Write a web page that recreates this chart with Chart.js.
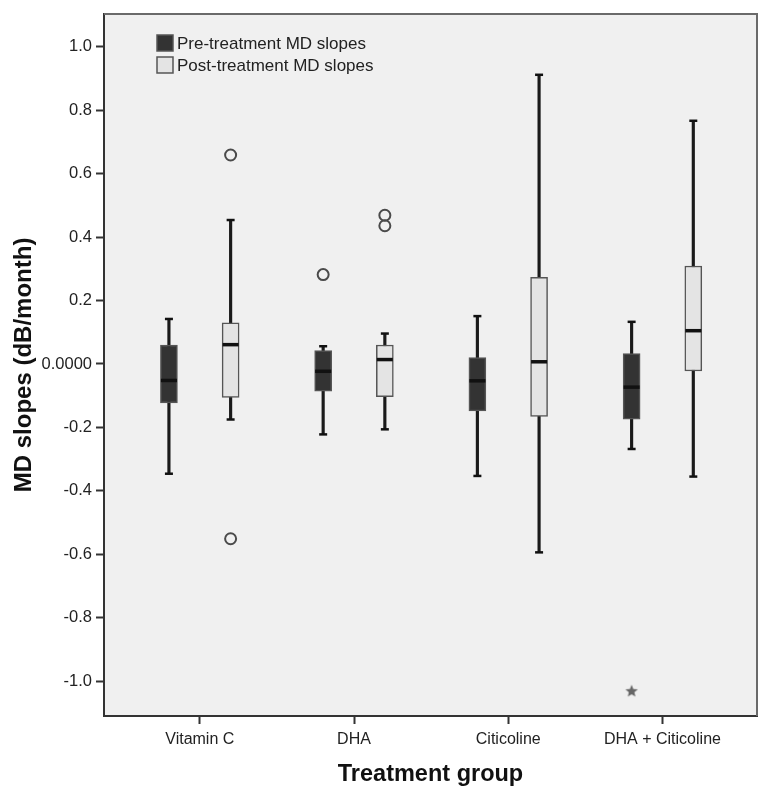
<!DOCTYPE html>
<html>
<head>
<meta charset="utf-8">
<script src="https://cdn.jsdelivr.net/npm/chart.js@4/dist/chart.umd.min.js"></script>
<style>
  body { margin: 0; background: #fff; }
  #wrap { width: 769px; height: 794px; }
</style>
</head>
<body>
<div id="wrap"><canvas id="chart" width="769" height="794"></canvas></div>
<script>
// =============================================
// Data
// =============================================
const categories = ['Vitamin C', 'DHA', 'Citicoline', 'DHA + Citicoline'];
const yTicks = [-1.0, -0.8, -0.6, -0.4, -0.2, 0, 0.2, 0.4, 0.6, 0.8, 1.0];

// Pre-treatment MD slopes
const preWhiskerLow  = [-0.346, -0.222, -0.353, -0.268];
const preQ1          = [-0.123, -0.086, -0.148, -0.174];
const preMedian      = [-0.052, -0.023, -0.053, -0.073];
const preQ3          = [ 0.060,  0.042,  0.020,  0.033];
const preWhiskerHigh = [ 0.142,  0.056,  0.151,  0.133];

// Post-treatment MD slopes
const postWhiskerLow  = [-0.175, -0.206, -0.594, -0.355];
const postQ1          = [-0.105, -0.103, -0.165, -0.022];
const postMedian      = [ 0.061,  0.014,  0.007,  0.105];
const postQ3          = [ 0.130,  0.060,  0.273,  0.309];
const postWhiskerHigh = [ 0.454,  0.096,  0.912,  0.767];

// outliers (circles) and extremes (stars): category index + value
const preOutlierCat   = [1];
const preOutlierVal   = [0.282];
const postOutlierCat  = [0, 0, 1, 1];
const postOutlierVal  = [0.659, -0.551, 0.469, 0.436];
const preExtremeCat   = [3];
const preExtremeVal   = [-1.032];

// =============================================
// Helpers
// =============================================
const GROUP_OFFSET = 0.2;
const FONT = "'Liberation Sans', Arial, sans-serif";

function xPos(i, side) {
  return i + 1 + (side === 'pre' ? -GROUP_OFFSET : GROUP_OFFSET);
}

function rangeData(lo, hi, side) {
  return lo.map((v, i) => ({ x: xPos(i, side), y: [v, hi[i]] }));
}

function pointData(vals, side) {
  return vals.map((v, i) => ({ x: xPos(i, side), y: v }));
}

function outlierData(cats, vals, side) {
  return cats.map((c, k) => ({ x: xPos(c, side), y: vals[k] }));
}

function makeStar(size, color) {
  const c = document.createElement('canvas');
  c.width = size; c.height = size;
  const g = c.getContext('2d');
  const cx = size / 2, cy = size / 2, R = size / 2 - 0.5, r = R * 0.45;
  g.beginPath();
  for (let k = 0; k < 10; k++) {
    const a = -Math.PI / 2 + k * Math.PI / 5;
    const rr = k % 2 === 0 ? R : r;
    g.lineTo(cx + rr * Math.cos(a), cy + rr * Math.sin(a));
  }
  g.closePath();
  g.fillStyle = color;
  g.fill();
  return c;
}

// =============================================
// Plugins
// =============================================
const plotFrame = {
  id: 'plotFrame',
  beforeDraw(chart) {
    const { ctx, chartArea: a } = chart;
    ctx.save();
    ctx.fillStyle = '#f0f0f0';
    ctx.fillRect(a.left, a.top, a.right - a.left, a.bottom - a.top);
    ctx.restore();
  },
  afterDraw(chart) {
    const { ctx, chartArea: a } = chart;
    ctx.save();
    ctx.strokeStyle = '#6a6a6a';
    ctx.lineWidth = 2;
    ctx.beginPath();
    ctx.moveTo(a.left, a.top);
    ctx.lineTo(a.right, a.top);
    ctx.lineTo(a.right, a.bottom);
    ctx.stroke();
    ctx.restore();
  }
};

const boxLegend = {
  id: 'boxLegend',
  afterDraw(chart) {
    const { ctx } = chart;
    const items = [
      { text: 'Pre-treatment MD slopes',  fill: '#333333', y: 35 },
      { text: 'Post-treatment MD slopes', fill: '#e4e4e4', y: 57 }
    ];
    ctx.save();
    ctx.font = `17px ${FONT}`;
    ctx.textBaseline = 'middle';
    items.forEach(it => {
      ctx.fillStyle = it.fill;
      ctx.fillRect(157, it.y, 16, 16);
      ctx.strokeStyle = '#555';
      ctx.lineWidth = 1.5;
      ctx.strokeRect(157, it.y, 16, 16);
      ctx.fillStyle = '#222';
      ctx.fillText(it.text, 177, it.y + 9);
    });
    ctx.restore();
  }
};

// =============================================
// Datasets
// =============================================
const whisker = (lo, hi, side) => ({
  type: 'bar', data: rangeData(lo, hi, side), grouped: false,
  barThickness: 2.5, backgroundColor: '#1a1a1a', borderWidth: 0, order: 5
});

const box = (lo, hi, side, fill) => ({
  type: 'bar', data: rangeData(lo, hi, side), grouped: false,
  barThickness: 17, backgroundColor: fill, borderColor: '#555',
  borderWidth: 1.5, borderSkipped: false, order: 4
});

const hline = (vals, side, radius, width) => ({
  type: 'scatter', data: pointData(vals, side), pointStyle: 'line',
  pointRadius: radius, pointHoverRadius: radius, borderColor: '#111',
  borderWidth: width, order: 2
});

const datasets = [
  whisker(preWhiskerLow,  preWhiskerHigh,  'pre'),
  whisker(postWhiskerLow, postWhiskerHigh, 'post'),
  box(preQ1,  preQ3,  'pre',  '#333333'),
  box(postQ1, postQ3, 'post', '#e4e4e4'),
  hline(preWhiskerLow,   'pre',  4, 2.5),
  hline(preWhiskerHigh,  'pre',  4, 2.5),
  hline(postWhiskerLow,  'post', 4, 2.5),
  hline(postWhiskerHigh, 'post', 4, 2.5),
  hline(preMedian,  'pre',  8, 3.5),
  hline(postMedian, 'post', 8, 3.5),
  {
    type: 'scatter',
    data: outlierData(preOutlierCat, preOutlierVal, 'pre')
      .concat(outlierData(postOutlierCat, postOutlierVal, 'post')),
    pointStyle: 'circle', pointRadius: 5.5, backgroundColor: 'rgba(0,0,0,0)',
    borderColor: '#4a4a4a', borderWidth: 2, order: 1
  },
  {
    type: 'scatter',
    data: outlierData(preExtremeCat, preExtremeVal, 'pre'),
    pointStyle: makeStar(14, '#666'), order: 1
  }
];

// =============================================
// Chart
// =============================================
new Chart(document.getElementById('chart'), {
  type: 'bar',
  data: { datasets },
  options: {
    responsive: false,
    animation: false,
    layout: { padding: { top: 9, right: 12, left: 0, bottom: 0 } },
    plugins: { legend: { display: false }, tooltip: { enabled: false } },
    scales: {
      x: {
        type: 'linear',
        min: 0.379,
        max: 4.613,
        offset: false,
        afterFit: (s) => { s.height = 78; },
        afterBuildTicks: (s) => { s.ticks = categories.map((c, i) => ({ value: i + 1 })); },
        ticks: {
          autoSkip: false,
          maxRotation: 0,
          padding: 6,
          color: '#222',
          font: { family: FONT, size: 16 },
          callback: (v) => categories[Math.round(v) - 1] || ''
        },
        grid: { offset: false, drawOnChartArea: false, drawTicks: true, tickLength: 8, tickColor: '#333', tickWidth: 2 },
        border: { color: '#333', width: 2 },
        title: {
          display: true, text: 'Treatment group', color: '#111',
          font: { family: FONT, size: 23.5, weight: 'bold' },
          padding: { top: 0, bottom: 5 }
        }
      },
      y: {
        min: -1.11,
        max: 1.104,
        afterFit: (s) => { s.width = 104; },
        afterBuildTicks: (s) => { s.ticks = yTicks.map(v => ({ value: v })); },
        ticks: {
          padding: 4,
          color: '#222',
          font: { family: FONT, size: 16.5 },
          callback: (v) => (Math.abs(v) < 1e-9 ? '0.0000' : v.toFixed(1))
        },
        grid: { drawOnChartArea: false, drawTicks: true, tickLength: 8, tickColor: '#333', tickWidth: 2 },
        border: { color: '#333', width: 2 },
        title: {
          display: true, text: 'MD slopes (dB/month)', color: '#111',
          font: { family: FONT, size: 24, weight: 'bold' },
          padding: { top: 10, bottom: 0 }
        }
      }
    }
  },
  plugins: [plotFrame, boxLegend]
});
</script>
</body>
</html>
